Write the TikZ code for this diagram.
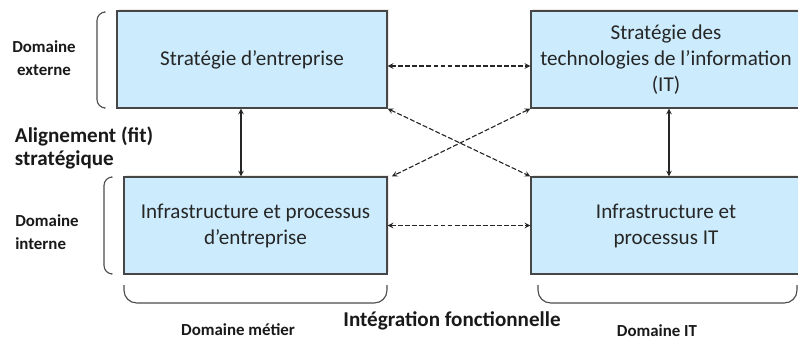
\documentclass[tikz,border=0pt]{standalone}
\usepackage{fontspec}
\setmainfont{Carlito}
\usepackage{tikz}
\usetikzlibrary{calc,shadows}
\tikzset{>=stealth}
\definecolor{boxblue}{RGB}{204,235,252}
\definecolor{boxline}{RGB}{70,70,70}
\tikzset{
  bloc/.style={draw=boxline,line width=0.9pt,fill=boxblue,align=center,
    text=black!85,font=\fontsize{15}{18.5}\selectfont,inner sep=2pt,
    minimum height=2.425cm,
    drop shadow={shadow xshift=1.2pt,shadow yshift=1.2pt,opacity=0.12,fill=brown!60!black}},
  petit/.style={font=\bfseries\fontsize{12}{16.3}\selectfont,text=black!90},
  grand/.style={font=\bfseries\fontsize{15}{16.5}\selectfont,text=black!90},
  lien/.style={<->,line width=0.8pt,black!85},
  lienpt/.style={<->,line width=0.8pt,black!85,dash pattern=on 3.5pt off 1.5pt},
  accolade/.style={line width=0.8pt,black!70,rounded corners=6pt},
  accbas/.style={line width=0.8pt,black!70,rounded corners=9pt}
}
\begin{document}
\begin{tikzpicture}[x=0.025cm,y=-0.025cm]
        \useasboundingbox (0,0) rectangle (798,341);

        % Boxes
        \node[bloc,minimum width=6.75cm]  at (252,59.5)   (strat) {Stratégie d’entreprise};
        \node[bloc,minimum width=6.75cm]  at (666,59.5)   (stratit) {Stratégie des\\technologies de l’information\\(IT)};
        \node[bloc,minimum width=6.575cm] at (255.5,225.5) (infra) {Infrastructure et processus\\d’entreprise};
        \node[bloc,minimum width=6.75cm]  at (666,225.5)  (infrait) {Infrastructure et\\processus IT};

        % Labels
        \node[petit,align=center] at (44,58.5)  (ext) {Domaine\\externe};
        \node[petit,align=left]   at (47,232)   (int) {Domaine\\interne};
        \node[grand,align=left,anchor=west] at (10,148) (align) {Alignement (fit)\\stratégique};
        \node[petit] at (238,330) (metier) {Domaine métier};
        \node[grand] at (452,321) (integ) {Intégration fonctionnelle};
        \node[petit] at (657,330.5) (domit) {Domaine IT};

        % Arrows
        \coordinate (va) at (241,0);
        \coordinate (vb) at (669,0);
        \coordinate (ha) at (0,66);
        \draw[lien] (strat.south -| va) -- (infra.north -| va);
        \draw[lien] (stratit.south -| vb) -- (infrait.north -| vb);
        \draw[lienpt] (strat.east |- ha) -- (stratit.west |- ha);
        \draw[lienpt] (infra.east) -- (infrait.west);
        \draw[lienpt] (strat.south east) -- (infrait.north west);
        \draw[lienpt] (stratit.south west) -- ([xshift=3pt]infra.north east);

        % Brackets
        \draw[accolade] (104,12) -- (97,12) -- (97,108) -- (104,108);
        \draw[accolade] (111,177) -- (104,177) -- (104,274) -- (111,274);
        \draw[accbas] (124,285) -- (124,303) -- (387,303) -- (387,285);
        \draw[accbas] (538,285) -- (538,303) -- (797,303) -- (797,285);

      \end{tikzpicture}
\end{document}
